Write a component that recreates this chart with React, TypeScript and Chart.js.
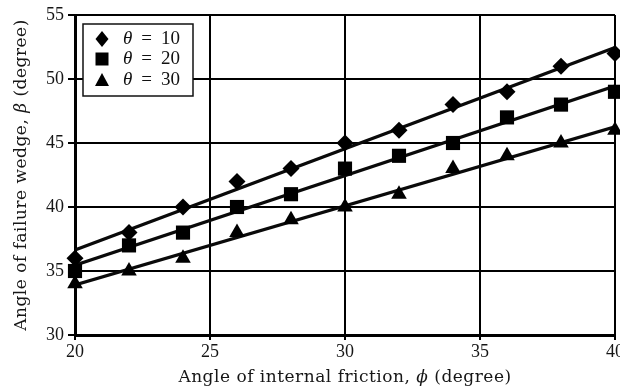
import React, { useEffect, useRef } from "react";
import { Chart, registerables } from "chart.js";

Chart.register(...registerables);

// Angle of internal friction (degrees) at which each run was evaluated
const phiValues = [20, 22, 24, 26, 28, 30, 32, 34, 36, 38, 40];
// Angle of failure wedge for each wall inclination theta
const beta10 = [36, 38, 40, 42, 43, 45, 46, 48, 49, 51, 52];
const beta20 = [35, 37, 38, 40, 41, 43, 44, 45, 47, 48, 49];
const beta30 = [34, 35, 36, 38, 39, 40, 41, 43, 44, 45, 46];
const thetaLabels = ["10", "20", "30"];
const markerStyles = ["rectRot", "rect", "triangle"];

const FONT = "'Liberation Serif', 'Times New Roman', serif";
const TITLE_FONT = "'DejaVu Serif', 'Liberation Serif', serif";
const INK = "#000";

// least-squares straight line through a series
function linearFit(xs: number[], ys: number[]) {
  const n = xs.length;
  const mx = xs.reduce((a, b) => a + b, 0) / n;
  const my = ys.reduce((a, b) => a + b, 0) / n;
  let sxy = 0;
  let sxx = 0;
  for (let i = 0; i < n; i++) {
    sxy += (xs[i] - mx) * (ys[i] - my);
    sxx += (xs[i] - mx) * (xs[i] - mx);
  }
  const slope = sxy / sxx;
  return (x: number) => my + slope * (x - mx);
}

type Piece = [string, boolean];

function drawRich(ctx: CanvasRenderingContext2D, pieces: Piece[], cx: number, cy: number, size: number, family: string) {
  const fontFor = (italic: boolean) => `${italic ? "italic " : ""}${size}px ${family}`;
  const c = ctx as any;
  c.letterSpacing = "0.5px";
  let total = 0;
  for (const [t, it] of pieces) {
    ctx.font = fontFor(it);
    total += ctx.measureText(t).width;
  }
  let x = cx - total / 2;
  ctx.textAlign = "left";
  ctx.textBaseline = "middle";
  for (const [t, it] of pieces) {
    ctx.font = fontFor(it);
    ctx.fillText(t, x, cy);
    x += ctx.measureText(t).width;
  }
  c.letterSpacing = "0px";
}

function drawMarker(ctx: CanvasRenderingContext2D, style: string, x: number, y: number) {
  ctx.beginPath();
  if (style === "rectRot") {
    ctx.moveTo(x, y - 8);
    ctx.lineTo(x + 6.5, y);
    ctx.lineTo(x, y + 8);
    ctx.lineTo(x - 6.5, y);
  } else if (style === "rect") {
    ctx.rect(x - 6.5, y - 6.5, 13, 13);
  } else {
    ctx.moveTo(x, y - 7);
    ctx.lineTo(x + 7, y + 6);
    ctx.lineTo(x - 7, y + 6);
  }
  ctx.closePath();
  ctx.fill();
}

const decorations = {
  id: "decorations",
  afterDraw(chart: any) {
    const { ctx, chartArea } = chart;
    ctx.save();
    ctx.fillStyle = "#161616";
    const cx = (chartArea.left + chartArea.right) / 2;
    const cy = (chartArea.top + chartArea.bottom) / 2;

    drawRich(
      ctx,
      [["Angle of internal friction, ", false], ["ϕ", true], [" (degree)", false]],
      cx,
      378,
      17,
      TITLE_FONT
    );

    ctx.save();
    ctx.translate(22, cy);
    ctx.rotate(-Math.PI / 2);
    drawRich(
      ctx,
      [["Angle of failure wedge, ", false], ["β", true], [" (degree)", false]],
      0,
      0,
      17,
      TITLE_FONT
    );
    ctx.restore();

    // legend box
    const bx = chartArea.left + 8;
    const by = chartArea.top + 9;
    const bw = 110;
    const bh = 72;
    ctx.fillStyle = "#fff";
    ctx.fillRect(bx, by, bw, bh);
    ctx.strokeStyle = "#111";
    ctx.lineWidth = 1.5;
    ctx.strokeRect(bx, by, bw, bh);

    const rows = [by + 15, by + 35, by + 56];
    thetaLabels.forEach((lab, i) => {
      ctx.fillStyle = INK;
      drawMarker(ctx, markerStyles[i], bx + 19, rows[i]);
      ctx.fillStyle = "#111";
      ctx.textAlign = "left";
      ctx.textBaseline = "middle";
      let tx = bx + 40;
      ctx.font = `italic 19px ${FONT}`;
      ctx.fillText("θ", tx, rows[i]);
      tx += ctx.measureText("θ").width + 9;
      ctx.font = `19px ${FONT}`;
      ctx.fillText("=", tx, rows[i]);
      tx += ctx.measureText("=").width + 9;
      ctx.fillText(lab, tx, rows[i]);
    });
    ctx.restore();
  },
};

export default function App() {
  const ref = useRef<HTMLCanvasElement | null>(null);

  useEffect(() => {
    if (!ref.current) return;
    const series = [beta10, beta20, beta30];

    const markerSets = series.map((ys, i) => ({
      type: "scatter" as const,
      label: `θ = ${thetaLabels[i]}`,
      data: phiValues.map((x, j) => ({ x, y: ys[j] })),
      pointStyle: markerStyles[i],
      pointRadius: i === 0 ? 8.5 : i === 1 ? 10 : 9,
      backgroundColor: INK,
      borderColor: INK,
      borderWidth: 0,
      showLine: false,
      clip: false as any,
      order: 0,
    }));

    const fitSets = series.map((ys, i) => {
      const f = linearFit(phiValues, ys);
      const x0 = phiValues[0];
      const x1 = phiValues[phiValues.length - 1];
      return {
        type: "line" as const,
        label: `fit ${thetaLabels[i]}`,
        data: [
          { x: x0, y: f(x0) },
          { x: x1, y: f(x1) },
        ],
        borderColor: "#0a0a0a",
        borderWidth: 3.2,
        pointRadius: 0,
        fill: false,
        tension: 0,
        order: 1,
      };
    });

    const chart = new Chart(ref.current, {
      type: "scatter",
      data: { datasets: [...markerSets, ...fitSets] as any },
      options: {
        responsive: false,
        animation: false,
        devicePixelRatio: 1,
        layout: { padding: { left: 0, top: 15, right: 25, bottom: 0 } },
        plugins: {
          legend: { display: false },
          tooltip: { enabled: false },
        },
        scales: {
          x: {
            type: "linear",
            min: 20,
            max: 40,
            ticks: {
              stepSize: 5,
              color: "#161616",
              font: { family: FONT, size: 18 },
              padding: 1,
              maxRotation: 0,
            },
            grid: { color: INK, lineWidth: 2, tickLength: 5 },
            border: { display: true, color: INK, width: 3 },
            afterFit: (s: any) => {
              s.height = 55;
            },
          },
          y: {
            type: "linear",
            min: 30,
            max: 55,
            ticks: {
              stepSize: 5,
              color: "#161616",
              font: { family: FONT, size: 18 },
              padding: 4,
            },
            grid: { color: INK, lineWidth: 2, tickLength: 7 },
            border: { display: true, color: INK, width: 3 },
            afterFit: (s: any) => {
              s.width = 75;
            },
          },
        },
      },
      plugins: [decorations],
    });

    return () => chart.destroy();
  }, []);

  return (
    <canvas
      ref={ref}
      width={640}
      height={390}
      style={{ position: "fixed", left: 0, top: 0, width: 640, height: 390, background: "#fff" }}
    />
  );
}
